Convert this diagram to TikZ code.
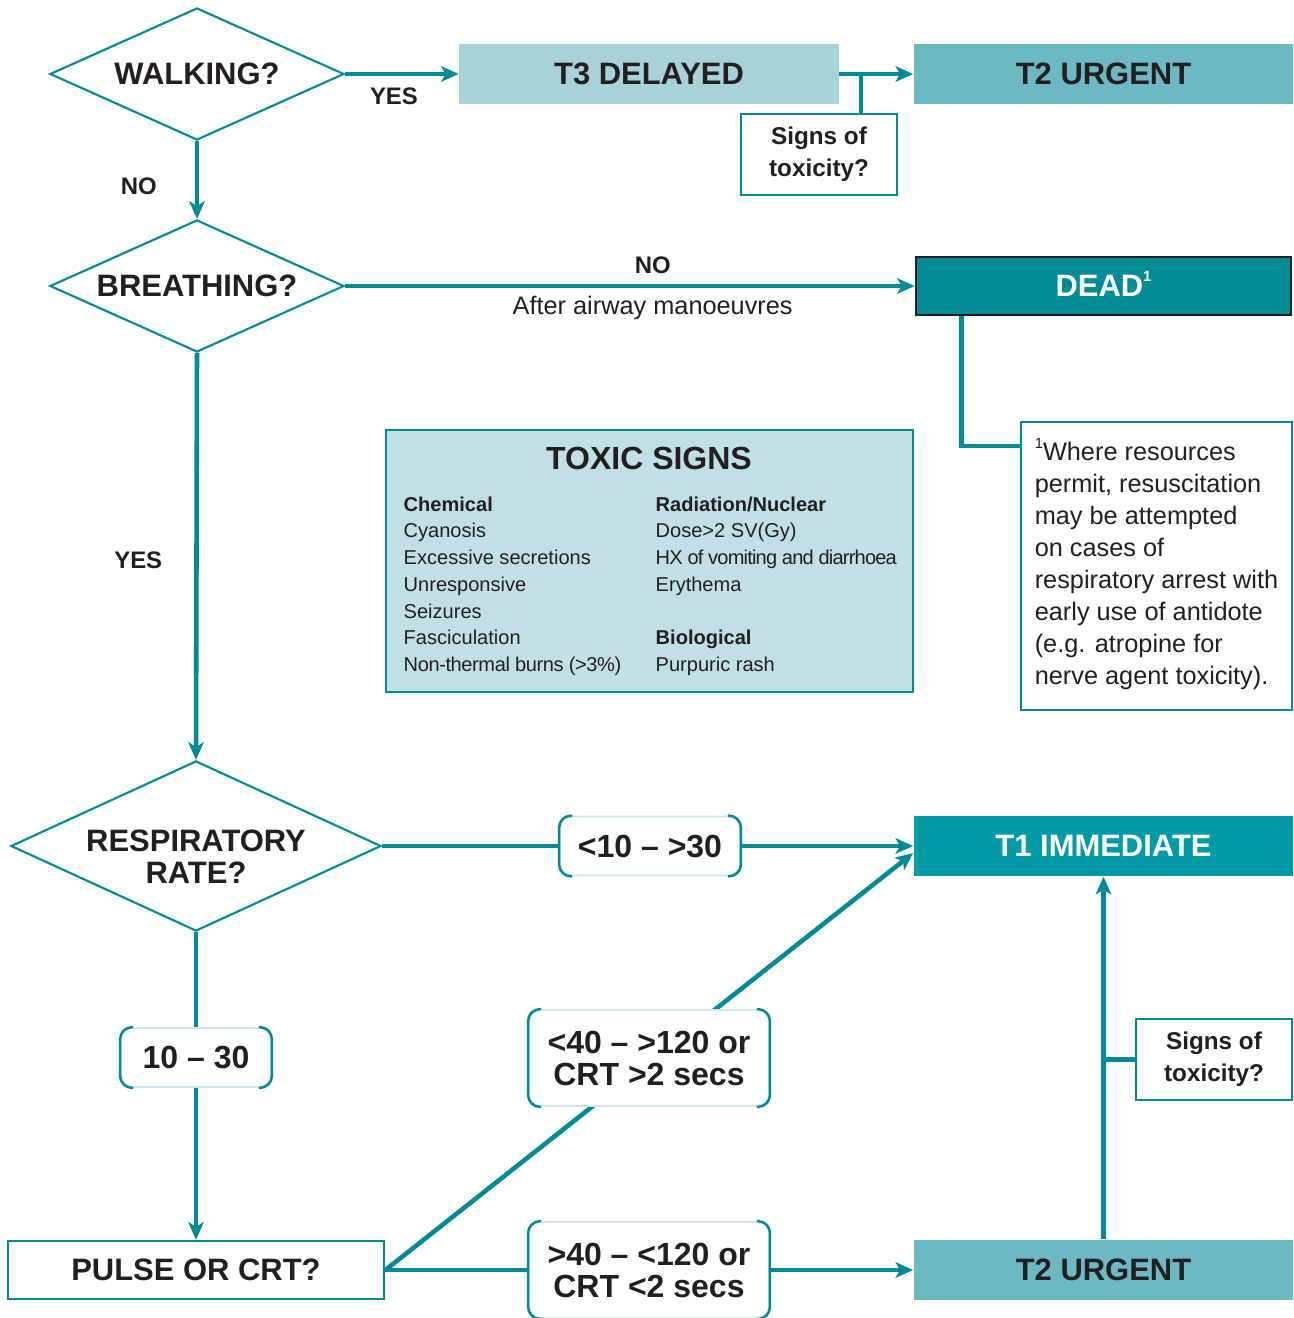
\documentclass[tikz,border=0pt]{standalone}
\usepackage{fontspec}
\setmainfont{Liberation Sans}
\usetikzlibrary{positioning,arrows.meta,shapes.geometric}
\definecolor{triageline}{RGB}{0,139,150}
\definecolor{ink}{RGB}{35,31,32}
\definecolor{tonefill}{RGB}{0,155,166}
\definecolor{ttwofill}{RGB}{108,185,195}
\definecolor{tthreefill}{RGB}{167,210,216}
\definecolor{deadfill}{RGB}{0,139,149}
\definecolor{toxicfill}{RGB}{192,224,228}
\newcommand{\footmark}{\raisebox{0.9ex}[0pt][0pt]{\fontsize{4.2}{5}\selectfont 1}}

\begin{document}
\begin{tikzpicture}[x=0.01cm, y=-0.01cm,
    decision/.style={diamond, aspect=2.2, draw=triageline, line width=0.6pt, fill=white,
                     inner sep=0pt, align=center, text=ink,
                     font=\bfseries\fontsize{8.8}{9.1}\selectfont},
    category/.style={rectangle, minimum width=3.79cm, minimum height=0.60cm, inner sep=0pt,
                     font=\bfseries\fontsize{8.8}{9.1}\selectfont},
    question/.style={rectangle, draw=triageline, line width=0.7pt, fill=white,
                     minimum width=1.56cm, minimum height=0.81cm, inner sep=0pt,
                     align=center, text=ink, font=\bfseries\fontsize{6.9}{9.1}\selectfont},
    rangebox/.style={rectangle, rounded corners=0.12cm, draw=triageline!20, line width=0.5pt,
                     fill=white, inner sep=0pt, align=center, text=ink,
                     font=\bfseries\fontsize{9.1}{9.1}\selectfont},
    bracket/.style={triageline, line width=0.7pt, rounded corners=0.12cm},
    tagtext/.style={inner sep=0pt, text=ink, font=\bfseries\fontsize{6.8}{8}\selectfont},
    notetext/.style={inner sep=0pt, text=ink, font=\fontsize{7.2}{9.1}\selectfont},
    signlist/.style={inner sep=0pt, align=left, text=ink, font=\fontsize{5.7}{7.6}\selectfont},
    arrow/.style={-{Stealth[length=5pt, width=4.4pt, inset=1.3pt]}, line width=1.3pt, triageline},
    link/.style={line width=1.3pt, triageline}
]
\useasboundingbox (0,0) rectangle (1293,1318);

% decisions
\node[decision, minimum width=2.94cm, minimum height=1.32cm] (walk) at (197,74) {WALKING?};
\node[decision, minimum width=2.94cm, minimum height=1.32cm] (breath) at (197,286) {BREATHING?};
\node[decision, minimum width=3.70cm, minimum height=1.70cm] (resp) at (196,846)
    {\raisebox{-6.4pt}[0pt][0pt]{\begin{tabular}{@{}c@{}}RESPIRATORY\\RATE?\end{tabular}}};
\node[rectangle, draw=triageline, line width=0.7pt, minimum width=3.76cm, minimum height=0.58cm,
      inner sep=0pt, text=ink, font=\bfseries\fontsize{8.8}{9.1}\selectfont] (pulse) at (196,1270) {PULSE OR CRT?};

% categories
\node[category, fill=tthreefill, text=ink] (t3) at (649,74) {T3 DELAYED};
\node[category, fill=ttwofill, text=ink] (t2top) at (1103.5,74) {T2 URGENT};
\node[category, fill=deadfill, draw=ink, line width=0.7pt, minimum width=3.75cm,
      minimum height=0.58cm, text=white] (dead) at (1103.5,286) {DEAD\footmark};
\node[category, fill=tonefill, text=white] (t1) at (1103.5,846) {T1 IMMEDIATE};
\node[category, fill=ttwofill, text=ink] (t2bot) at (1103.5,1270) {T2 URGENT};

% toxicity questions
\node[question] (sigtop) at (819,154.5) {Signs of\\toxicity?};
\node[question] (sigbot) at (1214,1059.5) {Signs of\\toxicity?};

% footnote
\node[rectangle, draw=triageline, line width=0.7pt, minimum width=2.71cm, minimum height=2.88cm,
      inner sep=0pt, align=left, text=ink, font=\fontsize{7.2}{9.1}\selectfont] (foot) at (1156.5,566)
    {\footmark Where resources\\permit, resuscitation\\may be attempted\\on cases of\\
     respiratory arrest with\\early use of antidote\\(e.g. atropine for\\nerve agent toxicity).};

% toxic signs panel
\node[rectangle, draw=triageline, line width=0.7pt, fill=toxicfill, minimum width=5.27cm,
      minimum height=2.62cm] (toxic) at (649.5,561) {};
\node[inner sep=0pt, text=ink, font=\bfseries\fontsize{9.1}{10}\selectfont] (toxtitle) at (649,458) {TOXIC SIGNS};
\node[signlist, anchor=north west] (chem) at (403,496)
    {\textbf{Chemical}\\Cyanosis\\Excessive secretions\\Unresponsive\\Seizures\\Fasciculation\\{\addfontfeature{LetterSpace=-2}Non-thermal burns (>3\%)}};
\node[signlist, anchor=north west] (rad) at (655,496)
    {\textbf{Radiation/Nuclear}\\Dose>2 SV(Gy)\\{\addfontfeature{LetterSpace=-4}HX of vomiting and diarrhoea}\\Erythema\\~\\\textbf{Biological}\\Purpuric rash};

% connectors
\draw[arrow] (walk.east) -- node[pos=0.43, tagtext, below=0.12cm] {YES} (t3.west);
\draw[arrow] (walk.south) -- node[pos=0.58, tagtext, left=0.38cm] {NO} (breath.north);
\draw[arrow] (t3.east) -- (t2top.west);
\coordinate (tox) at (861,74);
\draw[link] (tox) -- (tox |- sigtop.north);
\draw[arrow] (breath.east) -- node[pos=0.54, tagtext, above=0.095cm] {NO}
    node[pos=0.54, notetext, below=0.08cm] {After airway manoeuvres} (dead.west);
\draw[link] ([xshift=0.47cm]dead.south west) |- ([yshift=1.2cm]foot.west);
\draw[arrow] (breath.south) -- node[pos=0.51, tagtext, left=0.32cm] {YES} (resp.north);

\node[rangebox, minimum width=1.80cm, minimum height=0.59cm] (rrhigh) at (650,846) {<10 -- >30};
\node[rangebox, minimum width=1.50cm, minimum height=0.59cm] (rrnorm) at (196,1057.5) {10 -- 30};
\draw[link] (resp.east) -- (rrhigh.west);
\draw[arrow] (rrhigh.east) -- (t1.west);
\draw[link] (resp.south) -- (rrnorm.north);
\draw[arrow] (rrnorm.south) -- (pulse.north);

\draw[arrow] (pulse.east) -- ([yshift=-0.07cm]t1.west);
\node[rangebox, minimum width=2.40cm, minimum height=0.96cm] (pulsehigh) at (649,1058) {<40 -- >120 or\\CRT >2 secs};
\node[rangebox, minimum width=2.40cm, minimum height=0.96cm] (pulsenorm) at (649,1270) {>40 -- <120 or\\CRT <2 secs};
\draw[link] (pulse.east) -- (pulsenorm.west);
\draw[arrow] (pulsenorm.east) -- (t2bot.west);

\draw[arrow] (t2bot.north) -- (t1.south);
\draw[link] (sigbot.west) -- (sigbot.west -| t1.south);

\foreach \rb in {rrhigh,rrnorm,pulsehigh,pulsenorm}{
  \draw[bracket] ([xshift=0.13cm]\rb.north west) -- (\rb.north west) -- (\rb.south west) -- ([xshift=0.13cm]\rb.south west);
  \draw[bracket] ([xshift=-0.13cm]\rb.north east) -- (\rb.north east) -- (\rb.south east) -- ([xshift=-0.13cm]\rb.south east);
}
\end{tikzpicture}
\end{document}
